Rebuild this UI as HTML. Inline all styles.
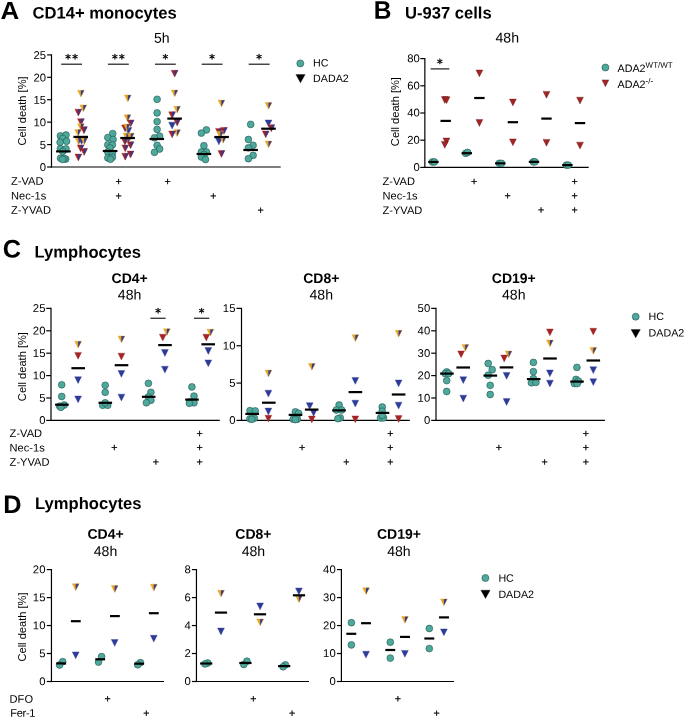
<!DOCTYPE html>
<html lang="en">
<head>
<meta charset="utf-8">
<title>Cell death figure</title>
<style>
html,body{margin:0;padding:0;background:#fff;}
body{width:685px;height:718px;overflow:hidden;}
svg{display:block;font-family:"Liberation Sans",Arial,sans-serif;fill:#000;}
</style>
</head>
<body>
<svg width="685" height="718" viewBox="0 0 685 718">
<rect width="685" height="718" fill="#fff"/>
<text transform="matrix(1.045 .0005 0 1 0.6 18.9)" font-size="24.8" font-weight="bold">A</text>
<text transform="matrix(1 .0005 0 1 32.5 18.5)" font-size="16.6" font-weight="bold">CD14+ monocytes</text>
<text transform="matrix(.97 .0005 0 1 373.8 18.8)" font-size="25.3" font-weight="bold">B</text>
<text transform="matrix(1 .0005 0 1 405 18.5)" font-size="16.6" font-weight="bold">U-937 cells</text>
<text transform="matrix(1 .0005 0 1 2.8 257.6)" font-size="25.3" font-weight="bold">C</text>
<text transform="matrix(1 .0005 0 1 34.6 257.6)" font-size="16.6" font-weight="bold">Lymphocytes</text>
<text transform="matrix(1 .0005 0 1 3.2 512.9)" font-size="25.3" font-weight="bold">D</text>
<text transform="matrix(1 .0005 0 1 35.05 508.9)" font-size="16.6" font-weight="bold">Lymphocytes</text>
<text transform="matrix(1 .0005 0 1 161.85 42.75)" font-size="14.1" text-anchor="middle">5h</text>
<line x1="51.5" y1="54.3" x2="51.5" y2="167.6" stroke="#000" stroke-width="1.2"/>
<line x1="50.9" y1="167" x2="280.7" y2="167" stroke="#000" stroke-width="1.2"/>
<line x1="47.1" y1="167" x2="51.5" y2="167" stroke="#000" stroke-width="1.2"/>
<text transform="matrix(1 .0005 0 1 46 171.1)" font-size="11.3" text-anchor="end">0</text>
<line x1="47.1" y1="144.58" x2="51.5" y2="144.58" stroke="#000" stroke-width="1.2"/>
<text transform="matrix(1 .0005 0 1 46 148.68)" font-size="11.3" text-anchor="end">5</text>
<line x1="47.1" y1="122.16" x2="51.5" y2="122.16" stroke="#000" stroke-width="1.2"/>
<text transform="matrix(1 .0005 0 1 46 126.26)" font-size="11.3" text-anchor="end">10</text>
<line x1="47.1" y1="99.74" x2="51.5" y2="99.74" stroke="#000" stroke-width="1.2"/>
<text transform="matrix(1 .0005 0 1 46 103.84)" font-size="11.3" text-anchor="end">15</text>
<line x1="47.1" y1="77.32" x2="51.5" y2="77.32" stroke="#000" stroke-width="1.2"/>
<text transform="matrix(1 .0005 0 1 46 81.42)" font-size="11.3" text-anchor="end">20</text>
<line x1="47.1" y1="54.9" x2="51.5" y2="54.9" stroke="#000" stroke-width="1.2"/>
<text transform="matrix(1 .0005 0 1 46 59)" font-size="11.3" text-anchor="end">25</text>
<text transform="translate(25.8 110.9) rotate(-90)" font-size="11.1" text-anchor="middle">Cell death [%]</text>
<text transform="matrix(1 .0005 0 1 11.05 184.8)" font-size="11.1">Z-VAD</text>
<text transform="matrix(1 .0005 0 1 11.05 199.6)" font-size="11.1">Nec-1s</text>
<text transform="matrix(1 .0005 0 1 11.05 213.8)" font-size="11.1">Z-YVAD</text>
<text transform="matrix(1 .0005 0 1 118.7 185)" font-size="10.6" text-anchor="middle" stroke="#000" stroke-width="0.25">+</text>
<text transform="matrix(1 .0005 0 1 118.7 199.5)" font-size="10.6" text-anchor="middle" stroke="#000" stroke-width="0.25">+</text>
<text transform="matrix(1 .0005 0 1 167.6 185)" font-size="10.6" text-anchor="middle" stroke="#000" stroke-width="0.25">+</text>
<text transform="matrix(1 .0005 0 1 213.3 199.5)" font-size="10.6" text-anchor="middle" stroke="#000" stroke-width="0.25">+</text>
<text transform="matrix(1 .0005 0 1 260.5 213.7)" font-size="10.6" text-anchor="middle" stroke="#000" stroke-width="0.25">+</text>
<circle cx="300.3" cy="63.4" r="3.5" fill="#4FA89C" stroke="#1F5650" stroke-width="0.6"/>
<path d="M295.9 74.6H305.1L300.5 82.8Z" fill="#000000" stroke="#000000" stroke-width="0.36" stroke-linejoin="round"/>
<text transform="matrix(1 .0005 0 1 313.1 66.5)" font-size="10.7">HC</text>
<text transform="matrix(1 .0005 0 1 313.1 82)" font-size="10.7">DADA2</text>
<line x1="61.2" y1="64.2" x2="82" y2="64.2" stroke="#111" stroke-width="1.15"/>
<text transform="matrix(1 .0005 0 1 72.15 62.5)" font-size="11.4" text-anchor="middle" font-family="DejaVu Sans, Liberation Sans, sans-serif" stroke="#000" stroke-width="0.35" letter-spacing="1.1">**</text>
<line x1="107.9" y1="64.2" x2="128.8" y2="64.2" stroke="#111" stroke-width="1.15"/>
<text transform="matrix(1 .0005 0 1 118.9 62.5)" font-size="11.4" text-anchor="middle" font-family="DejaVu Sans, Liberation Sans, sans-serif" stroke="#000" stroke-width="0.35" letter-spacing="1.1">**</text>
<line x1="155" y1="64.2" x2="175.8" y2="64.2" stroke="#111" stroke-width="1.15"/>
<text transform="matrix(1 .0005 0 1 165.4 62.5)" font-size="11.4" text-anchor="middle" font-family="DejaVu Sans, Liberation Sans, sans-serif" stroke="#000" stroke-width="0.35">*</text>
<line x1="201.7" y1="64.2" x2="222.6" y2="64.2" stroke="#111" stroke-width="1.15"/>
<text transform="matrix(1 .0005 0 1 212.15 62.5)" font-size="11.4" text-anchor="middle" font-family="DejaVu Sans, Liberation Sans, sans-serif" stroke="#000" stroke-width="0.35">*</text>
<line x1="248.7" y1="64.2" x2="269.6" y2="64.2" stroke="#111" stroke-width="1.15"/>
<text transform="matrix(1 .0005 0 1 259.15 62.5)" font-size="11.4" text-anchor="middle" font-family="DejaVu Sans, Liberation Sans, sans-serif" stroke="#000" stroke-width="0.35">*</text>
<circle cx="60.4" cy="135.9" r="3.4" fill="#4FA89C" stroke="#1F5650" stroke-width="0.6"/>
<circle cx="66" cy="135" r="3.4" fill="#4FA89C" stroke="#1F5650" stroke-width="0.6"/>
<circle cx="62.8" cy="138.5" r="3.4" fill="#4FA89C" stroke="#1F5650" stroke-width="0.6"/>
<circle cx="60.1" cy="142.3" r="3.4" fill="#4FA89C" stroke="#1F5650" stroke-width="0.6"/>
<circle cx="66.6" cy="141.3" r="3.4" fill="#4FA89C" stroke="#1F5650" stroke-width="0.6"/>
<circle cx="60.4" cy="148.6" r="3.4" fill="#4FA89C" stroke="#1F5650" stroke-width="0.6"/>
<circle cx="66" cy="148.9" r="3.4" fill="#4FA89C" stroke="#1F5650" stroke-width="0.6"/>
<circle cx="62.8" cy="151.4" r="3.4" fill="#4FA89C" stroke="#1F5650" stroke-width="0.6"/>
<circle cx="60.6" cy="158.2" r="3.4" fill="#4FA89C" stroke="#1F5650" stroke-width="0.6"/>
<circle cx="65.7" cy="159.1" r="3.4" fill="#4FA89C" stroke="#1F5650" stroke-width="0.6"/>
<circle cx="64.2" cy="158.6" r="3.4" fill="#4FA89C" stroke="#1F5650" stroke-width="0.6"/>
<circle cx="62.6" cy="159.4" r="3.4" fill="#4FA89C" stroke="#1F5650" stroke-width="0.6"/>
<path d="M77.48 90.17H84.33L80.9 97.02Z" fill="#EAA423"/>
<path d="M80.9 90.17H84.33L80.9 97.02Z" fill="#2D3B96"/>
<path d="M77.48 90.17H84.33L80.9 97.02Z" fill="none" stroke="#EAA423" stroke-width="0.36" stroke-linejoin="round"/>
<path d="M79.88 104.88H86.72L83.3 111.72Z" fill="#EAA423"/>
<path d="M83.3 104.88H86.72L83.3 111.72Z" fill="#2D3B96"/>
<path d="M79.88 104.88H86.72L83.3 111.72Z" fill="none" stroke="#EAA423" stroke-width="0.36" stroke-linejoin="round"/>
<path d="M74.88 109.17H81.72L78.3 116.02Z" fill="#A32424"/>
<path d="M78.3 109.17H81.72L78.3 116.02Z" fill="#2D3B96"/>
<path d="M74.88 109.17H81.72L78.3 116.02Z" fill="none" stroke="#A32424" stroke-width="0.36" stroke-linejoin="round"/>
<path d="M77.48 118.67H84.33L80.9 125.52Z" fill="#A32424"/>
<path d="M80.9 118.67H84.33L80.9 125.52Z" fill="#2D3B96"/>
<path d="M77.48 118.67H84.33L80.9 125.52Z" fill="none" stroke="#A32424" stroke-width="0.36" stroke-linejoin="round"/>
<path d="M77.48 123.67H84.33L80.9 130.53Z" fill="#EAA423"/>
<path d="M80.9 123.67H84.33L80.9 130.53Z" fill="#2D3B96"/>
<path d="M77.48 123.67H84.33L80.9 130.53Z" fill="none" stroke="#EAA423" stroke-width="0.36" stroke-linejoin="round"/>
<path d="M80.48 126.78H87.33L83.9 133.63Z" fill="#A32424"/>
<path d="M83.9 126.78H87.33L83.9 133.63Z" fill="#2D3B96"/>
<path d="M80.48 126.78H87.33L83.9 133.63Z" fill="none" stroke="#A32424" stroke-width="0.36" stroke-linejoin="round"/>
<path d="M74.58 129.47H81.42L78 136.33Z" fill="#EAA423"/>
<path d="M78 129.47H81.42L78 136.33Z" fill="#2D3B96"/>
<path d="M74.58 129.47H81.42L78 136.33Z" fill="none" stroke="#EAA423" stroke-width="0.36" stroke-linejoin="round"/>
<path d="M75.17 137.78H82.02L78.6 144.63Z" fill="#EAA423"/>
<path d="M78.6 137.78H82.02L78.6 144.63Z" fill="#2D3B96"/>
<path d="M75.17 137.78H82.02L78.6 144.63Z" fill="none" stroke="#EAA423" stroke-width="0.36" stroke-linejoin="round"/>
<path d="M78.17 137.57H85.02L81.6 144.43Z" fill="#2D3B96" stroke="#2D3B96" stroke-width="0.36" stroke-linejoin="round"/>
<path d="M80.78 137.78H87.62L84.2 144.63Z" fill="#EAA423"/>
<path d="M84.2 137.78H87.62L84.2 144.63Z" fill="#2D3B96"/>
<path d="M80.78 137.78H87.62L84.2 144.63Z" fill="none" stroke="#EAA423" stroke-width="0.36" stroke-linejoin="round"/>
<path d="M77.17 144.88H84.02L80.6 151.73Z" fill="#A32424"/>
<path d="M80.6 144.88H84.02L80.6 151.73Z" fill="#2D3B96"/>
<path d="M77.17 144.88H84.02L80.6 151.73Z" fill="none" stroke="#A32424" stroke-width="0.36" stroke-linejoin="round"/>
<path d="M80.67 148.57H87.52L84.1 155.43Z" fill="#A32424"/>
<path d="M84.1 148.57H87.52L84.1 155.43Z" fill="#2D3B96"/>
<path d="M80.67 148.57H87.52L84.1 155.43Z" fill="none" stroke="#A32424" stroke-width="0.36" stroke-linejoin="round"/>
<path d="M74.88 154.07H81.72L78.3 160.93Z" fill="#A32424"/>
<path d="M78.3 154.07H81.72L78.3 160.93Z" fill="#2D3B96"/>
<path d="M74.88 154.07H81.72L78.3 160.93Z" fill="none" stroke="#A32424" stroke-width="0.36" stroke-linejoin="round"/>
<line x1="56.1" y1="151.4" x2="70.7" y2="151.4" stroke="#000" stroke-width="2.2"/>
<line x1="73.4" y1="136.9" x2="88" y2="136.9" stroke="#000" stroke-width="2.2"/>
<circle cx="112.7" cy="133.6" r="3.4" fill="#4FA89C" stroke="#1F5650" stroke-width="0.6"/>
<circle cx="107.8" cy="137.6" r="3.4" fill="#4FA89C" stroke="#1F5650" stroke-width="0.6"/>
<circle cx="113.1" cy="139.5" r="3.4" fill="#4FA89C" stroke="#1F5650" stroke-width="0.6"/>
<circle cx="107.8" cy="144.8" r="3.4" fill="#4FA89C" stroke="#1F5650" stroke-width="0.6"/>
<circle cx="112.4" cy="144.8" r="3.4" fill="#4FA89C" stroke="#1F5650" stroke-width="0.6"/>
<circle cx="110" cy="148" r="3.4" fill="#4FA89C" stroke="#1F5650" stroke-width="0.6"/>
<circle cx="107.8" cy="152" r="3.4" fill="#4FA89C" stroke="#1F5650" stroke-width="0.6"/>
<circle cx="112.4" cy="153.3" r="3.4" fill="#4FA89C" stroke="#1F5650" stroke-width="0.6"/>
<circle cx="107.8" cy="157.9" r="3.4" fill="#4FA89C" stroke="#1F5650" stroke-width="0.6"/>
<circle cx="112.4" cy="157.3" r="3.4" fill="#4FA89C" stroke="#1F5650" stroke-width="0.6"/>
<circle cx="110.5" cy="159.2" r="3.4" fill="#4FA89C" stroke="#1F5650" stroke-width="0.6"/>
<path d="M124.38 94.97H131.22L127.8 101.82Z" fill="#EAA423"/>
<path d="M127.8 94.97H131.22L127.8 101.82Z" fill="#2D3B96"/>
<path d="M124.38 94.97H131.22L127.8 101.82Z" fill="none" stroke="#EAA423" stroke-width="0.36" stroke-linejoin="round"/>
<path d="M124.98 127.48H131.83L128.4 134.33Z" fill="#2D3B96" stroke="#2D3B96" stroke-width="0.36" stroke-linejoin="round"/>
<path d="M124.08 114.78H130.93L127.5 121.62Z" fill="#EAA423"/>
<path d="M127.5 114.78H130.93L127.5 121.62Z" fill="#2D3B96"/>
<path d="M124.08 114.78H130.93L127.5 121.62Z" fill="none" stroke="#EAA423" stroke-width="0.36" stroke-linejoin="round"/>
<path d="M127.27 119.88H134.12L130.7 126.72Z" fill="#A32424"/>
<path d="M130.7 119.88H134.12L130.7 126.72Z" fill="#2D3B96"/>
<path d="M127.27 119.88H134.12L130.7 126.72Z" fill="none" stroke="#A32424" stroke-width="0.36" stroke-linejoin="round"/>
<path d="M121.58 124.88H128.43L125 131.73Z" fill="#A32424"/>
<path d="M125 124.88H128.43L125 131.73Z" fill="#2D3B96"/>
<path d="M121.58 124.88H128.43L125 131.73Z" fill="none" stroke="#A32424" stroke-width="0.36" stroke-linejoin="round"/>
<path d="M123.48 124.08H130.33L126.9 130.93Z" fill="#EAA423"/>
<path d="M126.9 124.08H130.33L126.9 130.93Z" fill="#2D3B96"/>
<path d="M123.48 124.08H130.33L126.9 130.93Z" fill="none" stroke="#EAA423" stroke-width="0.36" stroke-linejoin="round"/>
<path d="M124.77 136.47H131.62L128.2 143.33Z" fill="#EAA423"/>
<path d="M128.2 136.47H131.62L128.2 143.33Z" fill="#2D3B96"/>
<path d="M124.77 136.47H131.62L128.2 143.33Z" fill="none" stroke="#EAA423" stroke-width="0.36" stroke-linejoin="round"/>
<path d="M123.08 133.07H129.93L126.5 139.93Z" fill="#EAA423"/>
<path d="M126.5 133.07H129.93L126.5 139.93Z" fill="#2D3B96"/>
<path d="M123.08 133.07H129.93L126.5 139.93Z" fill="none" stroke="#EAA423" stroke-width="0.36" stroke-linejoin="round"/>
<path d="M127.38 133.18H134.23L130.8 140.03Z" fill="#EAA423"/>
<path d="M130.8 133.18H134.23L130.8 140.03Z" fill="#2D3B96"/>
<path d="M127.38 133.18H134.23L130.8 140.03Z" fill="none" stroke="#EAA423" stroke-width="0.36" stroke-linejoin="round"/>
<path d="M121.48 138.18H128.33L124.9 145.03Z" fill="#A32424"/>
<path d="M124.9 138.18H128.33L124.9 145.03Z" fill="#2D3B96"/>
<path d="M121.48 138.18H128.33L124.9 145.03Z" fill="none" stroke="#A32424" stroke-width="0.36" stroke-linejoin="round"/>
<path d="M127.08 141.78H133.93L130.5 148.63Z" fill="#A32424"/>
<path d="M130.5 141.78H133.93L130.5 148.63Z" fill="#2D3B96"/>
<path d="M127.08 141.78H133.93L130.5 148.63Z" fill="none" stroke="#A32424" stroke-width="0.36" stroke-linejoin="round"/>
<path d="M121.78 144.97H128.62L125.2 151.83Z" fill="#A32424"/>
<path d="M125.2 144.97H128.62L125.2 151.83Z" fill="#2D3B96"/>
<path d="M121.78 144.97H128.62L125.2 151.83Z" fill="none" stroke="#A32424" stroke-width="0.36" stroke-linejoin="round"/>
<path d="M127.08 151.07H133.93L130.5 157.93Z" fill="#A32424"/>
<path d="M130.5 151.07H133.93L130.5 157.93Z" fill="#2D3B96"/>
<path d="M127.08 151.07H133.93L130.5 157.93Z" fill="none" stroke="#A32424" stroke-width="0.36" stroke-linejoin="round"/>
<path d="M121.78 153.28H128.62L125.2 160.13Z" fill="#A32424"/>
<path d="M125.2 153.28H128.62L125.2 160.13Z" fill="#2D3B96"/>
<path d="M121.78 153.28H128.62L125.2 160.13Z" fill="none" stroke="#A32424" stroke-width="0.36" stroke-linejoin="round"/>
<line x1="102.8" y1="151" x2="117.4" y2="151" stroke="#000" stroke-width="2.2"/>
<line x1="120.3" y1="138" x2="134.9" y2="138" stroke="#000" stroke-width="2.2"/>
<circle cx="157.1" cy="99.3" r="3.4" fill="#4FA89C" stroke="#1F5650" stroke-width="0.6"/>
<circle cx="157.1" cy="112.9" r="3.4" fill="#4FA89C" stroke="#1F5650" stroke-width="0.6"/>
<circle cx="157.1" cy="121.6" r="3.4" fill="#4FA89C" stroke="#1F5650" stroke-width="0.6"/>
<circle cx="157.1" cy="129.4" r="3.4" fill="#4FA89C" stroke="#1F5650" stroke-width="0.6"/>
<circle cx="159.6" cy="136.1" r="3.4" fill="#4FA89C" stroke="#1F5650" stroke-width="0.6"/>
<circle cx="154.5" cy="137.8" r="3.4" fill="#4FA89C" stroke="#1F5650" stroke-width="0.6"/>
<circle cx="157.1" cy="145.3" r="3.4" fill="#4FA89C" stroke="#1F5650" stroke-width="0.6"/>
<circle cx="159.6" cy="149" r="3.4" fill="#4FA89C" stroke="#1F5650" stroke-width="0.6"/>
<circle cx="154.5" cy="152.3" r="3.4" fill="#4FA89C" stroke="#1F5650" stroke-width="0.6"/>
<path d="M171.17 70.28H178.03L174.6 77.12Z" fill="#A32424"/>
<path d="M174.6 70.28H178.03L174.6 77.12Z" fill="#2D3B96"/>
<path d="M171.17 70.28H178.03L174.6 77.12Z" fill="none" stroke="#A32424" stroke-width="0.36" stroke-linejoin="round"/>
<path d="M171.17 89.97H178.03L174.6 96.82Z" fill="#EAA423"/>
<path d="M174.6 89.97H178.03L174.6 96.82Z" fill="#2D3B96"/>
<path d="M171.17 89.97H178.03L174.6 96.82Z" fill="none" stroke="#EAA423" stroke-width="0.36" stroke-linejoin="round"/>
<path d="M173.67 106.28H180.53L177.1 113.12Z" fill="#EAA423"/>
<path d="M177.1 106.28H180.53L177.1 113.12Z" fill="#2D3B96"/>
<path d="M173.67 106.28H180.53L177.1 113.12Z" fill="none" stroke="#EAA423" stroke-width="0.36" stroke-linejoin="round"/>
<path d="M168.67 111.78H175.53L172.1 118.62Z" fill="#A32424"/>
<path d="M172.1 111.78H175.53L172.1 118.62Z" fill="#2D3B96"/>
<path d="M168.67 111.78H175.53L172.1 118.62Z" fill="none" stroke="#A32424" stroke-width="0.36" stroke-linejoin="round"/>
<path d="M173.67 119.08H180.53L177.1 125.92Z" fill="#A32424"/>
<path d="M177.1 119.08H180.53L177.1 125.92Z" fill="#2D3B96"/>
<path d="M173.67 119.08H180.53L177.1 125.92Z" fill="none" stroke="#A32424" stroke-width="0.36" stroke-linejoin="round"/>
<path d="M168.67 122.17H175.53L172.1 129.03Z" fill="#2D3B96" stroke="#2D3B96" stroke-width="0.36" stroke-linejoin="round"/>
<path d="M173.67 129.68H180.53L177.1 136.53Z" fill="#EAA423"/>
<path d="M177.1 129.68H180.53L177.1 136.53Z" fill="#2D3B96"/>
<path d="M173.67 129.68H180.53L177.1 136.53Z" fill="none" stroke="#EAA423" stroke-width="0.36" stroke-linejoin="round"/>
<path d="M168.67 130.97H175.53L172.1 137.83Z" fill="#A32424"/>
<path d="M172.1 130.97H175.53L172.1 137.83Z" fill="#2D3B96"/>
<path d="M168.67 130.97H175.53L172.1 137.83Z" fill="none" stroke="#A32424" stroke-width="0.36" stroke-linejoin="round"/>
<line x1="149.5" y1="139" x2="164.1" y2="139" stroke="#000" stroke-width="2.2"/>
<line x1="167.3" y1="118.6" x2="181.9" y2="118.6" stroke="#000" stroke-width="2.2"/>
<circle cx="206.4" cy="129.9" r="3.4" fill="#4FA89C" stroke="#1F5650" stroke-width="0.6"/>
<circle cx="201.4" cy="133.1" r="3.4" fill="#4FA89C" stroke="#1F5650" stroke-width="0.6"/>
<circle cx="203.9" cy="145.7" r="3.4" fill="#4FA89C" stroke="#1F5650" stroke-width="0.6"/>
<circle cx="201.4" cy="152" r="3.4" fill="#4FA89C" stroke="#1F5650" stroke-width="0.6"/>
<circle cx="206.4" cy="152" r="3.4" fill="#4FA89C" stroke="#1F5650" stroke-width="0.6"/>
<circle cx="203.9" cy="154.5" r="3.4" fill="#4FA89C" stroke="#1F5650" stroke-width="0.6"/>
<circle cx="201.4" cy="157" r="3.4" fill="#4FA89C" stroke="#1F5650" stroke-width="0.6"/>
<circle cx="205.5" cy="159.5" r="3.4" fill="#4FA89C" stroke="#1F5650" stroke-width="0.6"/>
<path d="M217.97 100.08H224.83L221.4 106.92Z" fill="#EAA423"/>
<path d="M221.4 100.08H224.83L221.4 106.92Z" fill="#2D3B96"/>
<path d="M217.97 100.08H224.83L221.4 106.92Z" fill="none" stroke="#EAA423" stroke-width="0.36" stroke-linejoin="round"/>
<path d="M215.47 128.47H222.33L218.9 135.33Z" fill="#A32424"/>
<path d="M218.9 128.47H222.33L218.9 135.33Z" fill="#2D3B96"/>
<path d="M215.47 128.47H222.33L218.9 135.33Z" fill="none" stroke="#A32424" stroke-width="0.36" stroke-linejoin="round"/>
<path d="M220.47 127.48H227.33L223.9 134.33Z" fill="#A32424"/>
<path d="M223.9 127.48H227.33L223.9 134.33Z" fill="#2D3B96"/>
<path d="M220.47 127.48H227.33L223.9 134.33Z" fill="none" stroke="#A32424" stroke-width="0.36" stroke-linejoin="round"/>
<path d="M216.88 131.28H223.73L220.3 138.13Z" fill="#EAA423"/>
<path d="M220.3 131.28H223.73L220.3 138.13Z" fill="#2D3B96"/>
<path d="M216.88 131.28H223.73L220.3 138.13Z" fill="none" stroke="#EAA423" stroke-width="0.36" stroke-linejoin="round"/>
<path d="M215.47 137.97H222.33L218.9 144.83Z" fill="#2D3B96" stroke="#2D3B96" stroke-width="0.36" stroke-linejoin="round"/>
<path d="M219.67 136.38H226.53L223.1 143.23Z" fill="#EAA423"/>
<path d="M223.1 136.38H226.53L223.1 143.23Z" fill="#2D3B96"/>
<path d="M219.67 136.38H226.53L223.1 143.23Z" fill="none" stroke="#EAA423" stroke-width="0.36" stroke-linejoin="round"/>
<path d="M217.97 150.57H224.83L221.4 157.43Z" fill="#A32424"/>
<path d="M221.4 150.57H224.83L221.4 157.43Z" fill="#2D3B96"/>
<path d="M217.97 150.57H224.83L221.4 157.43Z" fill="none" stroke="#A32424" stroke-width="0.36" stroke-linejoin="round"/>
<line x1="196.6" y1="154" x2="211.2" y2="154" stroke="#000" stroke-width="2.2"/>
<line x1="214.3" y1="137" x2="228.9" y2="137" stroke="#000" stroke-width="2.2"/>
<circle cx="250.7" cy="124.4" r="3.4" fill="#4FA89C" stroke="#1F5650" stroke-width="0.6"/>
<circle cx="248.4" cy="139.5" r="3.4" fill="#4FA89C" stroke="#1F5650" stroke-width="0.6"/>
<circle cx="253.1" cy="145.3" r="3.4" fill="#4FA89C" stroke="#1F5650" stroke-width="0.6"/>
<circle cx="248.4" cy="147.8" r="3.4" fill="#4FA89C" stroke="#1F5650" stroke-width="0.6"/>
<circle cx="253.1" cy="155.4" r="3.4" fill="#4FA89C" stroke="#1F5650" stroke-width="0.6"/>
<circle cx="248.4" cy="158.7" r="3.4" fill="#4FA89C" stroke="#1F5650" stroke-width="0.6"/>
<path d="M265.07 102.38H271.93L268.5 109.22Z" fill="#EAA423"/>
<path d="M268.5 102.38H271.93L268.5 109.22Z" fill="#2D3B96"/>
<path d="M265.07 102.38H271.93L268.5 109.22Z" fill="none" stroke="#EAA423" stroke-width="0.36" stroke-linejoin="round"/>
<path d="M265.07 119.97H271.93L268.5 126.82Z" fill="#2D3B96" stroke="#2D3B96" stroke-width="0.36" stroke-linejoin="round"/>
<path d="M267.88 124.78H274.73L271.3 131.63Z" fill="#A32424"/>
<path d="M271.3 124.78H274.73L271.3 131.63Z" fill="#2D3B96"/>
<path d="M267.88 124.78H274.73L271.3 131.63Z" fill="none" stroke="#A32424" stroke-width="0.36" stroke-linejoin="round"/>
<path d="M262.27 130.88H269.12L265.7 137.73Z" fill="#A32424"/>
<path d="M265.7 130.88H269.12L265.7 137.73Z" fill="#2D3B96"/>
<path d="M262.27 130.88H269.12L265.7 137.73Z" fill="none" stroke="#A32424" stroke-width="0.36" stroke-linejoin="round"/>
<path d="M265.07 140.97H271.93L268.5 147.83Z" fill="#EAA423"/>
<path d="M268.5 140.97H271.93L268.5 147.83Z" fill="#2D3B96"/>
<path d="M265.07 140.97H271.93L268.5 147.83Z" fill="none" stroke="#EAA423" stroke-width="0.36" stroke-linejoin="round"/>
<line x1="243.3" y1="150" x2="257.9" y2="150" stroke="#000" stroke-width="2.2"/>
<line x1="261.2" y1="128.7" x2="275.8" y2="128.7" stroke="#000" stroke-width="2.2"/>
<text transform="matrix(1 .0005 0 1 507.2 42.5)" font-size="14.1" text-anchor="middle">48h</text>
<line x1="424.85" y1="58" x2="424.85" y2="168" stroke="#000" stroke-width="1.2"/>
<line x1="424.25" y1="167.4" x2="588.7" y2="167.4" stroke="#000" stroke-width="1.2"/>
<line x1="420.3" y1="167.4" x2="424.85" y2="167.4" stroke="#000" stroke-width="1.2"/>
<text transform="matrix(1 .0005 0 1 419.75 171)" font-size="11.3" text-anchor="end">0</text>
<line x1="420.3" y1="140.2" x2="424.85" y2="140.2" stroke="#000" stroke-width="1.2"/>
<text transform="matrix(1 .0005 0 1 419.75 143.8)" font-size="11.3" text-anchor="end">20</text>
<line x1="420.3" y1="113" x2="424.85" y2="113" stroke="#000" stroke-width="1.2"/>
<text transform="matrix(1 .0005 0 1 419.75 116.6)" font-size="11.3" text-anchor="end">40</text>
<line x1="420.3" y1="85.8" x2="424.85" y2="85.8" stroke="#000" stroke-width="1.2"/>
<text transform="matrix(1 .0005 0 1 419.75 89.4)" font-size="11.3" text-anchor="end">60</text>
<line x1="420.3" y1="58.6" x2="424.85" y2="58.6" stroke="#000" stroke-width="1.2"/>
<text transform="matrix(1 .0005 0 1 419.75 62.2)" font-size="11.3" text-anchor="end">80</text>
<text transform="translate(399 111.6) rotate(-90)" font-size="11.1" text-anchor="middle">Cell death [%]</text>
<text transform="matrix(1 .0005 0 1 382.5 185)" font-size="11.1">Z-VAD</text>
<text transform="matrix(1 .0005 0 1 382.5 199.4)" font-size="11.1">Nec-1s</text>
<text transform="matrix(1 .0005 0 1 382.5 214)" font-size="11.1">Z-YVAD</text>
<text transform="matrix(1 .0005 0 1 474 185)" font-size="10.6" text-anchor="middle" stroke="#000" stroke-width="0.25">+</text>
<text transform="matrix(1 .0005 0 1 507.5 199.3)" font-size="10.6" text-anchor="middle" stroke="#000" stroke-width="0.25">+</text>
<text transform="matrix(1 .0005 0 1 541 213.5)" font-size="10.6" text-anchor="middle" stroke="#000" stroke-width="0.25">+</text>
<text transform="matrix(1 .0005 0 1 574.6 185)" font-size="10.6" text-anchor="middle" stroke="#000" stroke-width="0.25">+</text>
<text transform="matrix(1 .0005 0 1 574.6 199.3)" font-size="10.6" text-anchor="middle" stroke="#000" stroke-width="0.25">+</text>
<text transform="matrix(1 .0005 0 1 574.6 213.5)" font-size="10.6" text-anchor="middle" stroke="#000" stroke-width="0.25">+</text>
<circle cx="605.4" cy="67.5" r="3.5" fill="#4FA89C" stroke="#1F5650" stroke-width="0.6"/>
<path d="M601.98 79.88H608.82L605.4 86.72Z" fill="#A32424" stroke="#5A1212" stroke-width="0.36" stroke-linejoin="round"/>
<text transform="matrix(1 .0005 0 1 617.5 71.9)" font-size="10.75">ADA2<tspan dy="-4.2" font-size="8">WT/WT</tspan></text>
<text transform="matrix(1 .0005 0 1 617.5 88)" font-size="10.75">ADA2<tspan dy="-4.2" font-size="8">-/-</tspan></text>
<line x1="430.6" y1="68.9" x2="449.3" y2="68.9" stroke="#111" stroke-width="1.15"/>
<text transform="matrix(1 .0005 0 1 439.95 67.2)" font-size="11.4" text-anchor="middle" font-family="DejaVu Sans, Liberation Sans, sans-serif" stroke="#000" stroke-width="0.35">*</text>
<circle cx="432.4" cy="161.95" r="3.4" fill="#4FA89C" stroke="#1F5650" stroke-width="0.6"/>
<circle cx="434.4" cy="161.95" r="3.4" fill="#4FA89C" stroke="#1F5650" stroke-width="0.6"/>
<path d="M441.38 96.58H448.23L444.8 103.42Z" fill="#A32424" stroke="#5A1212" stroke-width="0.36" stroke-linejoin="round"/>
<path d="M443.18 96.78H450.03L446.6 103.62Z" fill="#A32424" stroke="#5A1212" stroke-width="0.36" stroke-linejoin="round"/>
<path d="M442.97 137.97H449.82L446.4 144.83Z" fill="#A32424" stroke="#5A1212" stroke-width="0.36" stroke-linejoin="round"/>
<path d="M441.38 141.38H448.23L444.8 148.23Z" fill="#A32424" stroke="#5A1212" stroke-width="0.36" stroke-linejoin="round"/>
<line x1="428.2" y1="161.95" x2="438.6" y2="161.95" stroke="#000" stroke-width="2.2"/>
<line x1="440.5" y1="120.9" x2="450.9" y2="120.9" stroke="#000" stroke-width="2.2"/>
<circle cx="465.7" cy="153.3" r="3.4" fill="#4FA89C" stroke="#1F5650" stroke-width="0.6"/>
<circle cx="467.6" cy="152.4" r="3.4" fill="#4FA89C" stroke="#1F5650" stroke-width="0.6"/>
<path d="M475.97 69.97H482.82L479.4 76.82Z" fill="#A32424" stroke="#5A1212" stroke-width="0.36" stroke-linejoin="round"/>
<path d="M475.97 119.58H482.82L479.4 126.42Z" fill="#A32424" stroke="#5A1212" stroke-width="0.36" stroke-linejoin="round"/>
<line x1="461.6" y1="153.2" x2="472" y2="153.2" stroke="#000" stroke-width="2.2"/>
<line x1="474.2" y1="98" x2="484.6" y2="98" stroke="#000" stroke-width="2.2"/>
<circle cx="499.3" cy="163.35" r="3.4" fill="#4FA89C" stroke="#1F5650" stroke-width="0.6"/>
<circle cx="501.5" cy="163.35" r="3.4" fill="#4FA89C" stroke="#1F5650" stroke-width="0.6"/>
<path d="M509.47 99.08H516.32L512.9 105.92Z" fill="#A32424" stroke="#5A1212" stroke-width="0.36" stroke-linejoin="round"/>
<path d="M509.47 138.88H516.32L512.9 145.73Z" fill="#A32424" stroke="#5A1212" stroke-width="0.36" stroke-linejoin="round"/>
<line x1="495.1" y1="163.35" x2="505.5" y2="163.35" stroke="#000" stroke-width="2.2"/>
<line x1="507.7" y1="122.2" x2="518.1" y2="122.2" stroke="#000" stroke-width="2.2"/>
<circle cx="533.3" cy="161.85" r="3.4" fill="#4FA89C" stroke="#1F5650" stroke-width="0.6"/>
<circle cx="534.9" cy="161.85" r="3.4" fill="#4FA89C" stroke="#1F5650" stroke-width="0.6"/>
<path d="M543.08 91.38H549.92L546.5 98.22Z" fill="#A32424" stroke="#5A1212" stroke-width="0.36" stroke-linejoin="round"/>
<path d="M543.08 139.38H549.92L546.5 146.23Z" fill="#A32424" stroke="#5A1212" stroke-width="0.36" stroke-linejoin="round"/>
<line x1="528.8" y1="161.85" x2="539.2" y2="161.85" stroke="#000" stroke-width="2.2"/>
<line x1="541.3" y1="118.6" x2="551.7" y2="118.6" stroke="#000" stroke-width="2.2"/>
<circle cx="566.4" cy="165.1" r="3.4" fill="#4FA89C" stroke="#1F5650" stroke-width="0.6"/>
<circle cx="568.3" cy="165.1" r="3.4" fill="#4FA89C" stroke="#1F5650" stroke-width="0.6"/>
<path d="M576.58 97.17H583.42L580 104.02Z" fill="#A32424" stroke="#5A1212" stroke-width="0.36" stroke-linejoin="round"/>
<path d="M576.58 142.18H583.42L580 149.03Z" fill="#A32424" stroke="#5A1212" stroke-width="0.36" stroke-linejoin="round"/>
<line x1="562.2" y1="165.1" x2="572.6" y2="165.1" stroke="#000" stroke-width="2.2"/>
<line x1="574.8" y1="123.1" x2="585.2" y2="123.1" stroke="#000" stroke-width="2.2"/>
<text transform="matrix(1 .0005 0 1 129.7 283.1)" font-size="14" font-weight="bold" text-anchor="middle">CD4+</text>
<text transform="matrix(1 .0005 0 1 129.6 299.6)" font-size="14.1" text-anchor="middle">48h</text>
<text transform="matrix(1 .0005 0 1 321.3 283.1)" font-size="14" font-weight="bold" text-anchor="middle">CD8+</text>
<text transform="matrix(1 .0005 0 1 321.2 299.6)" font-size="14.1" text-anchor="middle">48h</text>
<text transform="matrix(1 .0005 0 1 513.8 283.1)" font-size="14" font-weight="bold" text-anchor="middle">CD19+</text>
<text transform="matrix(1 .0005 0 1 513.7 299.6)" font-size="14.1" text-anchor="middle">48h</text>
<line x1="51" y1="307.8" x2="51" y2="421" stroke="#000" stroke-width="1.2"/>
<line x1="50.4" y1="420.4" x2="219.8" y2="420.4" stroke="#000" stroke-width="1.2"/>
<line x1="46.2" y1="420.4" x2="51" y2="420.4" stroke="#000" stroke-width="1.2"/>
<text transform="matrix(1 .0005 0 1 45.44 424.1)" font-size="11.3" text-anchor="end">0</text>
<line x1="46.2" y1="398" x2="51" y2="398" stroke="#000" stroke-width="1.2"/>
<text transform="matrix(1 .0005 0 1 45.44 401.7)" font-size="11.3" text-anchor="end">5</text>
<line x1="46.2" y1="375.6" x2="51" y2="375.6" stroke="#000" stroke-width="1.2"/>
<text transform="matrix(1 .0005 0 1 45.44 379.3)" font-size="11.3" text-anchor="end">10</text>
<line x1="46.2" y1="353.2" x2="51" y2="353.2" stroke="#000" stroke-width="1.2"/>
<text transform="matrix(1 .0005 0 1 45.44 356.9)" font-size="11.3" text-anchor="end">15</text>
<line x1="46.2" y1="330.8" x2="51" y2="330.8" stroke="#000" stroke-width="1.2"/>
<text transform="matrix(1 .0005 0 1 45.44 334.5)" font-size="11.3" text-anchor="end">20</text>
<line x1="46.2" y1="308.4" x2="51" y2="308.4" stroke="#000" stroke-width="1.2"/>
<text transform="matrix(1 .0005 0 1 45.44 312.1)" font-size="11.3" text-anchor="end">25</text>
<line x1="241.5" y1="307.8" x2="241.5" y2="421" stroke="#000" stroke-width="1.2"/>
<line x1="240.9" y1="420.4" x2="409.8" y2="420.4" stroke="#000" stroke-width="1.2"/>
<line x1="236.5" y1="420.4" x2="241.5" y2="420.4" stroke="#000" stroke-width="1.2"/>
<text transform="matrix(1 .0005 0 1 235.45 424.1)" font-size="11.3" text-anchor="end">0</text>
<line x1="236.5" y1="383.07" x2="241.5" y2="383.07" stroke="#000" stroke-width="1.2"/>
<text transform="matrix(1 .0005 0 1 235.45 386.77)" font-size="11.3" text-anchor="end">5</text>
<line x1="236.5" y1="345.73" x2="241.5" y2="345.73" stroke="#000" stroke-width="1.2"/>
<text transform="matrix(1 .0005 0 1 235.45 349.43)" font-size="11.3" text-anchor="end">10</text>
<line x1="236.5" y1="308.4" x2="241.5" y2="308.4" stroke="#000" stroke-width="1.2"/>
<text transform="matrix(1 .0005 0 1 235.45 312.1)" font-size="11.3" text-anchor="end">15</text>
<line x1="436" y1="307.8" x2="436" y2="421" stroke="#000" stroke-width="1.2"/>
<line x1="435.4" y1="420.4" x2="604.9" y2="420.4" stroke="#000" stroke-width="1.2"/>
<line x1="431.2" y1="420.4" x2="436" y2="420.4" stroke="#000" stroke-width="1.2"/>
<text transform="matrix(1 .0005 0 1 430.2 424.1)" font-size="11.3" text-anchor="end">0</text>
<line x1="431.2" y1="398" x2="436" y2="398" stroke="#000" stroke-width="1.2"/>
<text transform="matrix(1 .0005 0 1 430.2 401.7)" font-size="11.3" text-anchor="end">10</text>
<line x1="431.2" y1="375.6" x2="436" y2="375.6" stroke="#000" stroke-width="1.2"/>
<text transform="matrix(1 .0005 0 1 430.2 379.3)" font-size="11.3" text-anchor="end">20</text>
<line x1="431.2" y1="353.2" x2="436" y2="353.2" stroke="#000" stroke-width="1.2"/>
<text transform="matrix(1 .0005 0 1 430.2 356.9)" font-size="11.3" text-anchor="end">30</text>
<line x1="431.2" y1="330.8" x2="436" y2="330.8" stroke="#000" stroke-width="1.2"/>
<text transform="matrix(1 .0005 0 1 430.2 334.5)" font-size="11.3" text-anchor="end">40</text>
<line x1="431.2" y1="308.4" x2="436" y2="308.4" stroke="#000" stroke-width="1.2"/>
<text transform="matrix(1 .0005 0 1 430.2 312.1)" font-size="11.3" text-anchor="end">50</text>
<text transform="translate(25.8 366.6) rotate(-90)" font-size="11.1" text-anchor="middle">Cell death [%]</text>
<text transform="matrix(1 .0005 0 1 9.6 436.9)" font-size="11.1">Z-VAD</text>
<text transform="matrix(1 .0005 0 1 9.6 451.5)" font-size="11.1">Nec-1s</text>
<text transform="matrix(1 .0005 0 1 9.6 465.8)" font-size="11.1">Z-YVAD</text>
<text transform="matrix(1 .0005 0 1 114.3 451.1)" font-size="10.6" text-anchor="middle" stroke="#000" stroke-width="0.25">+</text>
<text transform="matrix(1 .0005 0 1 155.8 465.4)" font-size="10.6" text-anchor="middle" stroke="#000" stroke-width="0.25">+</text>
<text transform="matrix(1 .0005 0 1 199.7 436.9)" font-size="10.6" text-anchor="middle" stroke="#000" stroke-width="0.25">+</text>
<text transform="matrix(1 .0005 0 1 199.7 451.1)" font-size="10.6" text-anchor="middle" stroke="#000" stroke-width="0.25">+</text>
<text transform="matrix(1 .0005 0 1 199.7 465.4)" font-size="10.6" text-anchor="middle" stroke="#000" stroke-width="0.25">+</text>
<text transform="matrix(1 .0005 0 1 302.2 451.1)" font-size="10.6" text-anchor="middle" stroke="#000" stroke-width="0.25">+</text>
<text transform="matrix(1 .0005 0 1 346.4 465.4)" font-size="10.6" text-anchor="middle" stroke="#000" stroke-width="0.25">+</text>
<text transform="matrix(1 .0005 0 1 390.4 436.9)" font-size="10.6" text-anchor="middle" stroke="#000" stroke-width="0.25">+</text>
<text transform="matrix(1 .0005 0 1 390.4 451.1)" font-size="10.6" text-anchor="middle" stroke="#000" stroke-width="0.25">+</text>
<text transform="matrix(1 .0005 0 1 390.4 465.4)" font-size="10.6" text-anchor="middle" stroke="#000" stroke-width="0.25">+</text>
<text transform="matrix(1 .0005 0 1 498.8 451.1)" font-size="10.6" text-anchor="middle" stroke="#000" stroke-width="0.25">+</text>
<text transform="matrix(1 .0005 0 1 544.6 465.4)" font-size="10.6" text-anchor="middle" stroke="#000" stroke-width="0.25">+</text>
<text transform="matrix(1 .0005 0 1 585.8 436.9)" font-size="10.6" text-anchor="middle" stroke="#000" stroke-width="0.25">+</text>
<text transform="matrix(1 .0005 0 1 585.8 451.1)" font-size="10.6" text-anchor="middle" stroke="#000" stroke-width="0.25">+</text>
<text transform="matrix(1 .0005 0 1 585.8 465.4)" font-size="10.6" text-anchor="middle" stroke="#000" stroke-width="0.25">+</text>
<circle cx="635.7" cy="316.7" r="3.5" fill="#4FA89C" stroke="#1F5650" stroke-width="0.6"/>
<path d="M631.1 329.6H640.3L635.7 337.8Z" fill="#000000" stroke="#000000" stroke-width="0.36" stroke-linejoin="round"/>
<text transform="matrix(1 .0005 0 1 648.6 319.9)" font-size="10.7">HC</text>
<text transform="matrix(1 .0005 0 1 648.6 336.6)" font-size="10.7">DADA2</text>
<line x1="150.4" y1="318.25" x2="165.6" y2="318.25" stroke="#111" stroke-width="1.15"/>
<text transform="matrix(1 .0005 0 1 158 316.55)" font-size="11.4" text-anchor="middle" font-family="DejaVu Sans, Liberation Sans, sans-serif" stroke="#000" stroke-width="0.35">*</text>
<line x1="194" y1="318.25" x2="209.3" y2="318.25" stroke="#111" stroke-width="1.15"/>
<text transform="matrix(1 .0005 0 1 201.65 316.55)" font-size="11.4" text-anchor="middle" font-family="DejaVu Sans, Liberation Sans, sans-serif" stroke="#000" stroke-width="0.35">*</text>
<circle cx="61.7" cy="384.8" r="3.4" fill="#4FA89C" stroke="#1F5650" stroke-width="0.6"/>
<circle cx="61.7" cy="396.5" r="3.4" fill="#4FA89C" stroke="#1F5650" stroke-width="0.6"/>
<circle cx="59.7" cy="406.2" r="3.4" fill="#4FA89C" stroke="#1F5650" stroke-width="0.6"/>
<circle cx="64.2" cy="405" r="3.4" fill="#4FA89C" stroke="#1F5650" stroke-width="0.6"/>
<circle cx="60.9" cy="407.3" r="3.4" fill="#4FA89C" stroke="#1F5650" stroke-width="0.6"/>
<path d="M74.67 341.18H81.52L78.1 348.03Z" fill="#EAA423"/>
<path d="M78.1 341.18H81.52L78.1 348.03Z" fill="#2D3B96"/>
<path d="M74.67 341.18H81.52L78.1 348.03Z" fill="none" stroke="#EAA423" stroke-width="0.36" stroke-linejoin="round"/>
<path d="M74.67 352.38H81.52L78.1 359.23Z" fill="#A32424" stroke="#A32424" stroke-width="0.36" stroke-linejoin="round"/>
<path d="M74.67 376.77H81.52L78.1 383.62Z" fill="#2D3B96" stroke="#2D3B96" stroke-width="0.36" stroke-linejoin="round"/>
<path d="M74.67 395.98H81.52L78.1 402.83Z" fill="#2D3B96" stroke="#2D3B96" stroke-width="0.36" stroke-linejoin="round"/>
<line x1="55.1" y1="404.7" x2="68.7" y2="404.7" stroke="#000" stroke-width="2.2"/>
<line x1="71.4" y1="368.2" x2="85" y2="368.2" stroke="#000" stroke-width="2.2"/>
<circle cx="105.2" cy="385.3" r="3.4" fill="#4FA89C" stroke="#1F5650" stroke-width="0.6"/>
<circle cx="105.2" cy="392.3" r="3.4" fill="#4FA89C" stroke="#1F5650" stroke-width="0.6"/>
<circle cx="102.7" cy="405.3" r="3.4" fill="#4FA89C" stroke="#1F5650" stroke-width="0.6"/>
<circle cx="107.7" cy="405.3" r="3.4" fill="#4FA89C" stroke="#1F5650" stroke-width="0.6"/>
<circle cx="105.2" cy="402.8" r="3.4" fill="#4FA89C" stroke="#1F5650" stroke-width="0.6"/>
<path d="M117.98 335.98H124.83L121.4 342.83Z" fill="#EAA423"/>
<path d="M121.4 335.98H124.83L121.4 342.83Z" fill="#2D3B96"/>
<path d="M117.98 335.98H124.83L121.4 342.83Z" fill="none" stroke="#EAA423" stroke-width="0.36" stroke-linejoin="round"/>
<path d="M117.98 353.18H124.83L121.4 360.03Z" fill="#A32424" stroke="#A32424" stroke-width="0.36" stroke-linejoin="round"/>
<path d="M117.98 370.48H124.83L121.4 377.33Z" fill="#2D3B96" stroke="#2D3B96" stroke-width="0.36" stroke-linejoin="round"/>
<path d="M117.98 394.18H124.83L121.4 401.03Z" fill="#2D3B96" stroke="#2D3B96" stroke-width="0.36" stroke-linejoin="round"/>
<line x1="98.5" y1="402.8" x2="112.1" y2="402.8" stroke="#000" stroke-width="2.2"/>
<line x1="114.7" y1="365.2" x2="128.3" y2="365.2" stroke="#000" stroke-width="2.2"/>
<circle cx="148.4" cy="383.3" r="3.4" fill="#4FA89C" stroke="#1F5650" stroke-width="0.6"/>
<circle cx="150.9" cy="392.3" r="3.4" fill="#4FA89C" stroke="#1F5650" stroke-width="0.6"/>
<circle cx="148.4" cy="397" r="3.4" fill="#4FA89C" stroke="#1F5650" stroke-width="0.6"/>
<circle cx="150.9" cy="400.3" r="3.4" fill="#4FA89C" stroke="#1F5650" stroke-width="0.6"/>
<circle cx="146.4" cy="402.8" r="3.4" fill="#4FA89C" stroke="#1F5650" stroke-width="0.6"/>
<path d="M163.38 328.68H170.23L166.8 335.53Z" fill="#EAA423"/>
<path d="M166.8 328.68H170.23L166.8 335.53Z" fill="#2D3B96"/>
<path d="M163.38 328.68H170.23L166.8 335.53Z" fill="none" stroke="#EAA423" stroke-width="0.36" stroke-linejoin="round"/>
<path d="M159.38 334.18H166.23L162.8 341.03Z" fill="#A32424" stroke="#A32424" stroke-width="0.36" stroke-linejoin="round"/>
<path d="M161.47 349.57H168.33L164.9 356.43Z" fill="#2D3B96" stroke="#2D3B96" stroke-width="0.36" stroke-linejoin="round"/>
<path d="M161.47 366.27H168.33L164.9 373.12Z" fill="#2D3B96" stroke="#2D3B96" stroke-width="0.36" stroke-linejoin="round"/>
<line x1="141.9" y1="396.8" x2="155.5" y2="396.8" stroke="#000" stroke-width="2.2"/>
<line x1="158.2" y1="345.1" x2="171.8" y2="345.1" stroke="#000" stroke-width="2.2"/>
<circle cx="191.9" cy="386.9" r="3.4" fill="#4FA89C" stroke="#1F5650" stroke-width="0.6"/>
<circle cx="194" cy="396.1" r="3.4" fill="#4FA89C" stroke="#1F5650" stroke-width="0.6"/>
<circle cx="189.9" cy="402" r="3.4" fill="#4FA89C" stroke="#1F5650" stroke-width="0.6"/>
<circle cx="194" cy="402.8" r="3.4" fill="#4FA89C" stroke="#1F5650" stroke-width="0.6"/>
<circle cx="189.4" cy="403.3" r="3.4" fill="#4FA89C" stroke="#1F5650" stroke-width="0.6"/>
<path d="M206.88 329.18H213.73L210.3 336.03Z" fill="#EAA423"/>
<path d="M210.3 329.18H213.73L210.3 336.03Z" fill="#2D3B96"/>
<path d="M206.88 329.18H213.73L210.3 336.03Z" fill="none" stroke="#EAA423" stroke-width="0.36" stroke-linejoin="round"/>
<path d="M202.88 334.18H209.73L206.3 341.03Z" fill="#A32424" stroke="#A32424" stroke-width="0.36" stroke-linejoin="round"/>
<path d="M204.88 347.57H211.73L208.3 354.43Z" fill="#2D3B96" stroke="#2D3B96" stroke-width="0.36" stroke-linejoin="round"/>
<path d="M204.88 359.88H211.73L208.3 366.73Z" fill="#2D3B96" stroke="#2D3B96" stroke-width="0.36" stroke-linejoin="round"/>
<line x1="185.2" y1="399.6" x2="198.8" y2="399.6" stroke="#000" stroke-width="2.2"/>
<line x1="201.4" y1="344.3" x2="215" y2="344.3" stroke="#000" stroke-width="2.2"/>
<circle cx="250" cy="410.6" r="3.4" fill="#4FA89C" stroke="#1F5650" stroke-width="0.6"/>
<circle cx="255.2" cy="410.9" r="3.4" fill="#4FA89C" stroke="#1F5650" stroke-width="0.6"/>
<circle cx="249.9" cy="418.8" r="3.4" fill="#4FA89C" stroke="#1F5650" stroke-width="0.6"/>
<circle cx="254.3" cy="418.2" r="3.4" fill="#4FA89C" stroke="#1F5650" stroke-width="0.6"/>
<circle cx="251.8" cy="419.3" r="3.4" fill="#4FA89C" stroke="#1F5650" stroke-width="0.6"/>
<path d="M264.97 370.07H271.82L268.4 376.93Z" fill="#EAA423"/>
<path d="M268.4 370.07H271.82L268.4 376.93Z" fill="#2D3B96"/>
<path d="M264.97 370.07H271.82L268.4 376.93Z" fill="none" stroke="#EAA423" stroke-width="0.36" stroke-linejoin="round"/>
<path d="M264.97 390.18H271.82L268.4 397.03Z" fill="#2D3B96" stroke="#2D3B96" stroke-width="0.36" stroke-linejoin="round"/>
<path d="M264.97 408.07H271.82L268.4 414.93Z" fill="#2D3B96" stroke="#2D3B96" stroke-width="0.36" stroke-linejoin="round"/>
<path d="M264.97 415.27H271.82L268.4 422.12Z" fill="#A32424" stroke="#A32424" stroke-width="0.36" stroke-linejoin="round"/>
<line x1="245.4" y1="413.9" x2="259" y2="413.9" stroke="#000" stroke-width="2.2"/>
<line x1="262" y1="402.7" x2="275.6" y2="402.7" stroke="#000" stroke-width="2.2"/>
<circle cx="295.4" cy="411.8" r="3.4" fill="#4FA89C" stroke="#1F5650" stroke-width="0.6"/>
<circle cx="298.6" cy="413.3" r="3.4" fill="#4FA89C" stroke="#1F5650" stroke-width="0.6"/>
<circle cx="293.2" cy="419.2" r="3.4" fill="#4FA89C" stroke="#1F5650" stroke-width="0.6"/>
<circle cx="297.3" cy="419.2" r="3.4" fill="#4FA89C" stroke="#1F5650" stroke-width="0.6"/>
<circle cx="295.3" cy="419.6" r="3.4" fill="#4FA89C" stroke="#1F5650" stroke-width="0.6"/>
<path d="M308.38 363.38H315.23L311.8 370.23Z" fill="#EAA423"/>
<path d="M311.8 363.38H315.23L311.8 370.23Z" fill="#2D3B96"/>
<path d="M308.38 363.38H315.23L311.8 370.23Z" fill="none" stroke="#EAA423" stroke-width="0.36" stroke-linejoin="round"/>
<path d="M306.27 402.68H313.12L309.7 409.53Z" fill="#2D3B96" stroke="#2D3B96" stroke-width="0.36" stroke-linejoin="round"/>
<path d="M310.18 409.38H317.03L313.6 416.23Z" fill="#2D3B96" stroke="#2D3B96" stroke-width="0.36" stroke-linejoin="round"/>
<path d="M308.38 416.07H315.23L311.8 422.93Z" fill="#A32424" stroke="#A32424" stroke-width="0.36" stroke-linejoin="round"/>
<line x1="288.7" y1="414.9" x2="302.3" y2="414.9" stroke="#000" stroke-width="2.2"/>
<line x1="304.9" y1="409.6" x2="318.5" y2="409.6" stroke="#000" stroke-width="2.2"/>
<circle cx="339.1" cy="405" r="3.4" fill="#4FA89C" stroke="#1F5650" stroke-width="0.6"/>
<circle cx="336.4" cy="410" r="3.4" fill="#4FA89C" stroke="#1F5650" stroke-width="0.6"/>
<circle cx="341.6" cy="410" r="3.4" fill="#4FA89C" stroke="#1F5650" stroke-width="0.6"/>
<circle cx="340.3" cy="417.9" r="3.4" fill="#4FA89C" stroke="#1F5650" stroke-width="0.6"/>
<circle cx="337.9" cy="418.7" r="3.4" fill="#4FA89C" stroke="#1F5650" stroke-width="0.6"/>
<path d="M351.88 334.77H358.73L355.3 341.62Z" fill="#EAA423"/>
<path d="M355.3 334.77H358.73L355.3 341.62Z" fill="#2D3B96"/>
<path d="M351.88 334.77H358.73L355.3 341.62Z" fill="none" stroke="#EAA423" stroke-width="0.36" stroke-linejoin="round"/>
<path d="M351.88 377.48H358.73L355.3 384.33Z" fill="#2D3B96" stroke="#2D3B96" stroke-width="0.36" stroke-linejoin="round"/>
<path d="M351.88 400.18H358.73L355.3 407.03Z" fill="#2D3B96" stroke="#2D3B96" stroke-width="0.36" stroke-linejoin="round"/>
<path d="M351.88 415.88H358.73L355.3 422.73Z" fill="#A32424" stroke="#A32424" stroke-width="0.36" stroke-linejoin="round"/>
<line x1="332.2" y1="410.4" x2="345.8" y2="410.4" stroke="#000" stroke-width="2.2"/>
<line x1="348.6" y1="392.1" x2="362.2" y2="392.1" stroke="#000" stroke-width="2.2"/>
<circle cx="382.2" cy="407" r="3.4" fill="#4FA89C" stroke="#1F5650" stroke-width="0.6"/>
<circle cx="382.2" cy="411.2" r="3.4" fill="#4FA89C" stroke="#1F5650" stroke-width="0.6"/>
<circle cx="380.5" cy="417.9" r="3.4" fill="#4FA89C" stroke="#1F5650" stroke-width="0.6"/>
<circle cx="383.5" cy="417.9" r="3.4" fill="#4FA89C" stroke="#1F5650" stroke-width="0.6"/>
<circle cx="382.2" cy="415.4" r="3.4" fill="#4FA89C" stroke="#1F5650" stroke-width="0.6"/>
<path d="M395.18 330.27H402.03L398.6 337.12Z" fill="#EAA423"/>
<path d="M398.6 330.27H402.03L398.6 337.12Z" fill="#2D3B96"/>
<path d="M395.18 330.27H402.03L398.6 337.12Z" fill="none" stroke="#EAA423" stroke-width="0.36" stroke-linejoin="round"/>
<path d="M395.18 379.98H402.03L398.6 386.83Z" fill="#2D3B96" stroke="#2D3B96" stroke-width="0.36" stroke-linejoin="round"/>
<path d="M395.18 402.18H402.03L398.6 409.03Z" fill="#2D3B96" stroke="#2D3B96" stroke-width="0.36" stroke-linejoin="round"/>
<path d="M395.18 415.57H402.03L398.6 422.43Z" fill="#A32424" stroke="#A32424" stroke-width="0.36" stroke-linejoin="round"/>
<line x1="375.7" y1="412.9" x2="389.3" y2="412.9" stroke="#000" stroke-width="2.2"/>
<line x1="391.8" y1="394.5" x2="405.4" y2="394.5" stroke="#000" stroke-width="2.2"/>
<circle cx="446.7" cy="371.9" r="3.4" fill="#4FA89C" stroke="#1F5650" stroke-width="0.6"/>
<circle cx="445.1" cy="373.6" r="3.4" fill="#4FA89C" stroke="#1F5650" stroke-width="0.6"/>
<circle cx="448.7" cy="373.6" r="3.4" fill="#4FA89C" stroke="#1F5650" stroke-width="0.6"/>
<circle cx="446.7" cy="380.6" r="3.4" fill="#4FA89C" stroke="#1F5650" stroke-width="0.6"/>
<circle cx="446.7" cy="391.5" r="3.4" fill="#4FA89C" stroke="#1F5650" stroke-width="0.6"/>
<path d="M461.88 344.48H468.73L465.3 351.33Z" fill="#EAA423"/>
<path d="M465.3 344.48H468.73L465.3 351.33Z" fill="#2D3B96"/>
<path d="M461.88 344.48H468.73L465.3 351.33Z" fill="none" stroke="#EAA423" stroke-width="0.36" stroke-linejoin="round"/>
<path d="M457.68 350.88H464.53L461.1 357.73Z" fill="#A32424" stroke="#A32424" stroke-width="0.36" stroke-linejoin="round"/>
<path d="M459.88 376.77H466.73L463.3 383.62Z" fill="#2D3B96" stroke="#2D3B96" stroke-width="0.36" stroke-linejoin="round"/>
<path d="M459.88 395.18H466.73L463.3 402.03Z" fill="#2D3B96" stroke="#2D3B96" stroke-width="0.36" stroke-linejoin="round"/>
<line x1="440.1" y1="373.6" x2="453.7" y2="373.6" stroke="#000" stroke-width="2.2"/>
<line x1="456.4" y1="367.5" x2="470" y2="367.5" stroke="#000" stroke-width="2.2"/>
<circle cx="488.2" cy="363.5" r="3.4" fill="#4FA89C" stroke="#1F5650" stroke-width="0.6"/>
<circle cx="492.2" cy="369.7" r="3.4" fill="#4FA89C" stroke="#1F5650" stroke-width="0.6"/>
<circle cx="488.2" cy="375.2" r="3.4" fill="#4FA89C" stroke="#1F5650" stroke-width="0.6"/>
<circle cx="490.2" cy="385.3" r="3.4" fill="#4FA89C" stroke="#1F5650" stroke-width="0.6"/>
<circle cx="490.2" cy="394.5" r="3.4" fill="#4FA89C" stroke="#1F5650" stroke-width="0.6"/>
<path d="M505.18 350.88H512.02L508.6 357.73Z" fill="#EAA423"/>
<path d="M508.6 350.88H512.02L508.6 357.73Z" fill="#2D3B96"/>
<path d="M505.18 350.88H512.02L508.6 357.73Z" fill="none" stroke="#EAA423" stroke-width="0.36" stroke-linejoin="round"/>
<path d="M500.77 355.07H507.62L504.2 361.93Z" fill="#A32424" stroke="#A32424" stroke-width="0.36" stroke-linejoin="round"/>
<path d="M503.18 372.48H510.03L506.6 379.33Z" fill="#2D3B96" stroke="#2D3B96" stroke-width="0.36" stroke-linejoin="round"/>
<path d="M503.18 398.57H510.03L506.6 405.43Z" fill="#2D3B96" stroke="#2D3B96" stroke-width="0.36" stroke-linejoin="round"/>
<line x1="483.5" y1="375.6" x2="497.1" y2="375.6" stroke="#000" stroke-width="2.2"/>
<line x1="499.7" y1="367.4" x2="513.3" y2="367.4" stroke="#000" stroke-width="2.2"/>
<circle cx="533.4" cy="362.4" r="3.4" fill="#4FA89C" stroke="#1F5650" stroke-width="0.6"/>
<circle cx="533.4" cy="371.6" r="3.4" fill="#4FA89C" stroke="#1F5650" stroke-width="0.6"/>
<circle cx="533.4" cy="378.6" r="3.4" fill="#4FA89C" stroke="#1F5650" stroke-width="0.6"/>
<circle cx="531.4" cy="382.8" r="3.4" fill="#4FA89C" stroke="#1F5650" stroke-width="0.6"/>
<circle cx="535.9" cy="382.4" r="3.4" fill="#4FA89C" stroke="#1F5650" stroke-width="0.6"/>
<path d="M546.48 328.98H553.32L549.9 335.83Z" fill="#A32424" stroke="#A32424" stroke-width="0.36" stroke-linejoin="round"/>
<path d="M546.48 339.98H553.32L549.9 346.83Z" fill="#EAA423"/>
<path d="M549.9 339.98H553.32L549.9 346.83Z" fill="#2D3B96"/>
<path d="M546.48 339.98H553.32L549.9 346.83Z" fill="none" stroke="#EAA423" stroke-width="0.36" stroke-linejoin="round"/>
<path d="M546.48 369.98H553.32L549.9 376.83Z" fill="#2D3B96" stroke="#2D3B96" stroke-width="0.36" stroke-linejoin="round"/>
<path d="M546.48 380.18H553.32L549.9 387.03Z" fill="#2D3B96" stroke="#2D3B96" stroke-width="0.36" stroke-linejoin="round"/>
<line x1="526.9" y1="379.1" x2="540.5" y2="379.1" stroke="#000" stroke-width="2.2"/>
<line x1="543.2" y1="358.5" x2="556.8" y2="358.5" stroke="#000" stroke-width="2.2"/>
<circle cx="576.9" cy="367.4" r="3.4" fill="#4FA89C" stroke="#1F5650" stroke-width="0.6"/>
<circle cx="576" cy="379.4" r="3.4" fill="#4FA89C" stroke="#1F5650" stroke-width="0.6"/>
<circle cx="578.5" cy="381.1" r="3.4" fill="#4FA89C" stroke="#1F5650" stroke-width="0.6"/>
<circle cx="574.4" cy="383.6" r="3.4" fill="#4FA89C" stroke="#1F5650" stroke-width="0.6"/>
<circle cx="577.2" cy="383.6" r="3.4" fill="#4FA89C" stroke="#1F5650" stroke-width="0.6"/>
<path d="M589.88 328.27H596.72L593.3 335.12Z" fill="#A32424" stroke="#A32424" stroke-width="0.36" stroke-linejoin="round"/>
<path d="M589.88 347.38H596.72L593.3 354.23Z" fill="#EAA423"/>
<path d="M593.3 347.38H596.72L593.3 354.23Z" fill="#2D3B96"/>
<path d="M589.88 347.38H596.72L593.3 354.23Z" fill="none" stroke="#EAA423" stroke-width="0.36" stroke-linejoin="round"/>
<path d="M589.88 366.77H596.72L593.3 373.62Z" fill="#2D3B96" stroke="#2D3B96" stroke-width="0.36" stroke-linejoin="round"/>
<path d="M589.88 378.77H596.72L593.3 385.62Z" fill="#2D3B96" stroke="#2D3B96" stroke-width="0.36" stroke-linejoin="round"/>
<line x1="570.2" y1="381.6" x2="583.8" y2="381.6" stroke="#000" stroke-width="2.2"/>
<line x1="586.5" y1="360.5" x2="600.1" y2="360.5" stroke="#000" stroke-width="2.2"/>
<text transform="matrix(1 .0005 0 1 105.5 538.7)" font-size="14" font-weight="bold" text-anchor="middle">CD4+</text>
<text transform="matrix(1 .0005 0 1 105.5 555.9)" font-size="14.1" text-anchor="middle">48h</text>
<text transform="matrix(1 .0005 0 1 253.4 538.7)" font-size="14" font-weight="bold" text-anchor="middle">CD8+</text>
<text transform="matrix(1 .0005 0 1 253.4 555.9)" font-size="14.1" text-anchor="middle">48h</text>
<text transform="matrix(1 .0005 0 1 398.9 538.7)" font-size="14" font-weight="bold" text-anchor="middle">CD19+</text>
<text transform="matrix(1 .0005 0 1 398.9 555.9)" font-size="14.1" text-anchor="middle">48h</text>
<line x1="51.45" y1="569" x2="51.45" y2="682.1" stroke="#000" stroke-width="1.2"/>
<line x1="50.85" y1="681.5" x2="164" y2="681.5" stroke="#000" stroke-width="1.2"/>
<line x1="46.75" y1="681.5" x2="51.45" y2="681.5" stroke="#000" stroke-width="1.2"/>
<text transform="matrix(1 .0005 0 1 45.45 685.2)" font-size="11.3" text-anchor="end">0</text>
<line x1="46.75" y1="653.52" x2="51.45" y2="653.52" stroke="#000" stroke-width="1.2"/>
<text transform="matrix(1 .0005 0 1 45.45 657.23)" font-size="11.3" text-anchor="end">5</text>
<line x1="46.75" y1="625.55" x2="51.45" y2="625.55" stroke="#000" stroke-width="1.2"/>
<text transform="matrix(1 .0005 0 1 45.45 629.25)" font-size="11.3" text-anchor="end">10</text>
<line x1="46.75" y1="597.58" x2="51.45" y2="597.58" stroke="#000" stroke-width="1.2"/>
<text transform="matrix(1 .0005 0 1 45.45 601.28)" font-size="11.3" text-anchor="end">15</text>
<line x1="46.75" y1="569.6" x2="51.45" y2="569.6" stroke="#000" stroke-width="1.2"/>
<text transform="matrix(1 .0005 0 1 45.45 573.3)" font-size="11.3" text-anchor="end">20</text>
<line x1="196.45" y1="569" x2="196.45" y2="682.1" stroke="#000" stroke-width="1.2"/>
<line x1="195.85" y1="681.5" x2="309" y2="681.5" stroke="#000" stroke-width="1.2"/>
<line x1="191.9" y1="681.5" x2="196.45" y2="681.5" stroke="#000" stroke-width="1.2"/>
<text transform="matrix(1 .0005 0 1 190.8 685.1)" font-size="11.3" text-anchor="end">0</text>
<line x1="191.9" y1="653.52" x2="196.45" y2="653.52" stroke="#000" stroke-width="1.2"/>
<text transform="matrix(1 .0005 0 1 190.8 657.12)" font-size="11.3" text-anchor="end">2</text>
<line x1="191.9" y1="625.55" x2="196.45" y2="625.55" stroke="#000" stroke-width="1.2"/>
<text transform="matrix(1 .0005 0 1 190.8 629.15)" font-size="11.3" text-anchor="end">4</text>
<line x1="191.9" y1="597.58" x2="196.45" y2="597.58" stroke="#000" stroke-width="1.2"/>
<text transform="matrix(1 .0005 0 1 190.8 601.18)" font-size="11.3" text-anchor="end">6</text>
<line x1="191.9" y1="569.6" x2="196.45" y2="569.6" stroke="#000" stroke-width="1.2"/>
<text transform="matrix(1 .0005 0 1 190.8 573.2)" font-size="11.3" text-anchor="end">8</text>
<line x1="341.4" y1="569" x2="341.4" y2="682.1" stroke="#000" stroke-width="1.2"/>
<line x1="340.8" y1="681.5" x2="454" y2="681.5" stroke="#000" stroke-width="1.2"/>
<line x1="336.95" y1="681.5" x2="341.4" y2="681.5" stroke="#000" stroke-width="1.2"/>
<text transform="matrix(1 .0005 0 1 335.7 685.1)" font-size="11.3" text-anchor="end">0</text>
<line x1="336.95" y1="653.52" x2="341.4" y2="653.52" stroke="#000" stroke-width="1.2"/>
<text transform="matrix(1 .0005 0 1 335.7 657.12)" font-size="11.3" text-anchor="end">10</text>
<line x1="336.95" y1="625.55" x2="341.4" y2="625.55" stroke="#000" stroke-width="1.2"/>
<text transform="matrix(1 .0005 0 1 335.7 629.15)" font-size="11.3" text-anchor="end">20</text>
<line x1="336.95" y1="597.58" x2="341.4" y2="597.58" stroke="#000" stroke-width="1.2"/>
<text transform="matrix(1 .0005 0 1 335.7 601.18)" font-size="11.3" text-anchor="end">30</text>
<line x1="336.95" y1="569.6" x2="341.4" y2="569.6" stroke="#000" stroke-width="1.2"/>
<text transform="matrix(1 .0005 0 1 335.7 573.2)" font-size="11.3" text-anchor="end">40</text>
<text transform="translate(25.8 627) rotate(-90)" font-size="11.1" text-anchor="middle">Cell death [%]</text>
<text transform="matrix(1 .0005 0 1 9.6 702.7)" font-size="11.1">DFO</text>
<text transform="matrix(1 .0005 0 1 10.2 716.8)" font-size="11.1" letter-spacing="-0.3">Fer-1</text>
<text transform="matrix(1 .0005 0 1 107.5 702.25)" font-size="10.6" text-anchor="middle" stroke="#000" stroke-width="0.25">+</text>
<text transform="matrix(1 .0005 0 1 146.4 716.8)" font-size="10.6" text-anchor="middle" stroke="#000" stroke-width="0.25">+</text>
<text transform="matrix(1 .0005 0 1 253.4 702.25)" font-size="10.6" text-anchor="middle" stroke="#000" stroke-width="0.25">+</text>
<text transform="matrix(1 .0005 0 1 292.1 716.8)" font-size="10.6" text-anchor="middle" stroke="#000" stroke-width="0.25">+</text>
<text transform="matrix(1 .0005 0 1 397.9 702.25)" font-size="10.6" text-anchor="middle" stroke="#000" stroke-width="0.25">+</text>
<text transform="matrix(1 .0005 0 1 436.6 716.8)" font-size="10.6" text-anchor="middle" stroke="#000" stroke-width="0.25">+</text>
<circle cx="485.4" cy="578" r="3.5" fill="#4FA89C" stroke="#1F5650" stroke-width="0.6"/>
<path d="M480.9 590.2H490.1L485.5 598.4Z" fill="#000000" stroke="#000000" stroke-width="0.36" stroke-linejoin="round"/>
<text transform="matrix(1 .0005 0 1 498.4 581.7)" font-size="10.7">HC</text>
<text transform="matrix(1 .0005 0 1 498.4 598)" font-size="10.7">DADA2</text>
<circle cx="62.7" cy="661.7" r="3.4" fill="#4FA89C" stroke="#1F5650" stroke-width="0.6"/>
<circle cx="59.6" cy="665" r="3.4" fill="#4FA89C" stroke="#1F5650" stroke-width="0.6"/>
<path d="M72.28 583.77H79.12L75.7 590.62Z" fill="#EAA423"/>
<path d="M75.7 583.77H79.12L75.7 590.62Z" fill="#2D3B96"/>
<path d="M72.28 583.77H79.12L75.7 590.62Z" fill="none" stroke="#EAA423" stroke-width="0.36" stroke-linejoin="round"/>
<path d="M72.28 651.88H79.12L75.7 658.72Z" fill="#2D3B96" stroke="#2D3B96" stroke-width="0.36" stroke-linejoin="round"/>
<line x1="56.3" y1="663.4" x2="66.1" y2="663.4" stroke="#000" stroke-width="2.2"/>
<line x1="70.9" y1="621.2" x2="80.7" y2="621.2" stroke="#000" stroke-width="2.2"/>
<circle cx="101.6" cy="656.6" r="3.4" fill="#4FA89C" stroke="#1F5650" stroke-width="0.6"/>
<circle cx="98.5" cy="662.1" r="3.4" fill="#4FA89C" stroke="#1F5650" stroke-width="0.6"/>
<path d="M111.28 585.58H118.12L114.7 592.42Z" fill="#EAA423"/>
<path d="M114.7 585.58H118.12L114.7 592.42Z" fill="#2D3B96"/>
<path d="M111.28 585.58H118.12L114.7 592.42Z" fill="none" stroke="#EAA423" stroke-width="0.36" stroke-linejoin="round"/>
<path d="M111.28 639.48H118.12L114.7 646.32Z" fill="#2D3B96" stroke="#2D3B96" stroke-width="0.36" stroke-linejoin="round"/>
<line x1="95.3" y1="659.3" x2="105.1" y2="659.3" stroke="#000" stroke-width="2.2"/>
<line x1="110" y1="616.1" x2="119.8" y2="616.1" stroke="#000" stroke-width="2.2"/>
<circle cx="140.4" cy="662.6" r="3.4" fill="#4FA89C" stroke="#1F5650" stroke-width="0.6"/>
<circle cx="137.7" cy="664.8" r="3.4" fill="#4FA89C" stroke="#1F5650" stroke-width="0.6"/>
<path d="M150.38 584.17H157.23L153.8 591.02Z" fill="#EAA423"/>
<path d="M153.8 584.17H157.23L153.8 591.02Z" fill="#2D3B96"/>
<path d="M150.38 584.17H157.23L153.8 591.02Z" fill="none" stroke="#EAA423" stroke-width="0.36" stroke-linejoin="round"/>
<path d="M150.38 635.27H157.23L153.8 642.12Z" fill="#2D3B96" stroke="#2D3B96" stroke-width="0.36" stroke-linejoin="round"/>
<line x1="134.3" y1="663.7" x2="144.1" y2="663.7" stroke="#000" stroke-width="2.2"/>
<line x1="148.9" y1="613.2" x2="158.7" y2="613.2" stroke="#000" stroke-width="2.2"/>
<circle cx="207.7" cy="663" r="3.4" fill="#4FA89C" stroke="#1F5650" stroke-width="0.6"/>
<circle cx="205" cy="663.9" r="3.4" fill="#4FA89C" stroke="#1F5650" stroke-width="0.6"/>
<path d="M217.57 590.17H224.43L221 597.02Z" fill="#EAA423"/>
<path d="M221 590.17H224.43L221 597.02Z" fill="#2D3B96"/>
<path d="M217.57 590.17H224.43L221 597.02Z" fill="none" stroke="#EAA423" stroke-width="0.36" stroke-linejoin="round"/>
<path d="M217.57 628.08H224.43L221 634.92Z" fill="#2D3B96" stroke="#2D3B96" stroke-width="0.36" stroke-linejoin="round"/>
<line x1="200.1" y1="663.5" x2="212.3" y2="663.5" stroke="#000" stroke-width="2.2"/>
<line x1="214.9" y1="612.6" x2="227.1" y2="612.6" stroke="#000" stroke-width="2.2"/>
<circle cx="246.9" cy="661.2" r="3.4" fill="#4FA89C" stroke="#1F5650" stroke-width="0.6"/>
<circle cx="243.8" cy="664.5" r="3.4" fill="#4FA89C" stroke="#1F5650" stroke-width="0.6"/>
<path d="M256.68 602.98H263.53L260.1 609.82Z" fill="#2D3B96" stroke="#2D3B96" stroke-width="0.36" stroke-linejoin="round"/>
<path d="M256.68 618.98H263.53L260.1 625.82Z" fill="#EAA423"/>
<path d="M260.1 618.98H263.53L260.1 625.82Z" fill="#2D3B96"/>
<path d="M256.68 618.98H263.53L260.1 625.82Z" fill="none" stroke="#EAA423" stroke-width="0.36" stroke-linejoin="round"/>
<line x1="239.3" y1="663" x2="251.5" y2="663" stroke="#000" stroke-width="2.2"/>
<line x1="253.9" y1="614.3" x2="266.1" y2="614.3" stroke="#000" stroke-width="2.2"/>
<circle cx="285.4" cy="664.8" r="3.4" fill="#4FA89C" stroke="#1F5650" stroke-width="0.6"/>
<circle cx="283.1" cy="666.8" r="3.4" fill="#4FA89C" stroke="#1F5650" stroke-width="0.6"/>
<path d="M295.47 595.67H302.32L298.9 602.52Z" fill="#EAA423"/>
<path d="M298.9 595.67H302.32L298.9 602.52Z" fill="#2D3B96"/>
<path d="M295.47 595.67H302.32L298.9 602.52Z" fill="none" stroke="#EAA423" stroke-width="0.36" stroke-linejoin="round"/>
<path d="M295.47 587.98H302.32L298.9 594.82Z" fill="#2D3B96" stroke="#2D3B96" stroke-width="0.36" stroke-linejoin="round"/>
<line x1="278.1" y1="666.1" x2="290.3" y2="666.1" stroke="#000" stroke-width="2.2"/>
<line x1="292.9" y1="595.3" x2="305.1" y2="595.3" stroke="#000" stroke-width="2.2"/>
<circle cx="351.4" cy="622.7" r="3.4" fill="#4FA89C" stroke="#1F5650" stroke-width="0.6"/>
<circle cx="351.4" cy="644.9" r="3.4" fill="#4FA89C" stroke="#1F5650" stroke-width="0.6"/>
<path d="M362.57 587.77H369.43L366 594.62Z" fill="#EAA423"/>
<path d="M366 587.77H369.43L366 594.62Z" fill="#2D3B96"/>
<path d="M362.57 587.77H369.43L366 594.62Z" fill="none" stroke="#EAA423" stroke-width="0.36" stroke-linejoin="round"/>
<path d="M362.57 651.27H369.43L366 658.12Z" fill="#2D3B96" stroke="#2D3B96" stroke-width="0.36" stroke-linejoin="round"/>
<line x1="346.35" y1="633.8" x2="356.25" y2="633.8" stroke="#000" stroke-width="2.2"/>
<line x1="361.05" y1="623.2" x2="370.95" y2="623.2" stroke="#000" stroke-width="2.2"/>
<circle cx="390.3" cy="642.2" r="3.4" fill="#4FA89C" stroke="#1F5650" stroke-width="0.6"/>
<circle cx="390.3" cy="658.1" r="3.4" fill="#4FA89C" stroke="#1F5650" stroke-width="0.6"/>
<path d="M401.47 616.48H408.32L404.9 623.32Z" fill="#EAA423"/>
<path d="M404.9 616.48H408.32L404.9 623.32Z" fill="#2D3B96"/>
<path d="M401.47 616.48H408.32L404.9 623.32Z" fill="none" stroke="#EAA423" stroke-width="0.36" stroke-linejoin="round"/>
<path d="M401.47 650.38H408.32L404.9 657.22Z" fill="#2D3B96" stroke="#2D3B96" stroke-width="0.36" stroke-linejoin="round"/>
<line x1="385.35" y1="650" x2="395.25" y2="650" stroke="#000" stroke-width="2.2"/>
<line x1="400.05" y1="636.9" x2="409.95" y2="636.9" stroke="#000" stroke-width="2.2"/>
<circle cx="429.3" cy="628.5" r="3.4" fill="#4FA89C" stroke="#1F5650" stroke-width="0.6"/>
<circle cx="429.3" cy="648.6" r="3.4" fill="#4FA89C" stroke="#1F5650" stroke-width="0.6"/>
<path d="M440.47 598.88H447.32L443.9 605.72Z" fill="#EAA423"/>
<path d="M443.9 598.88H447.32L443.9 605.72Z" fill="#2D3B96"/>
<path d="M440.47 598.88H447.32L443.9 605.72Z" fill="none" stroke="#EAA423" stroke-width="0.36" stroke-linejoin="round"/>
<path d="M440.47 628.88H447.32L443.9 635.72Z" fill="#2D3B96" stroke="#2D3B96" stroke-width="0.36" stroke-linejoin="round"/>
<line x1="424.35" y1="638.5" x2="434.25" y2="638.5" stroke="#000" stroke-width="2.2"/>
<line x1="439.05" y1="617.4" x2="448.95" y2="617.4" stroke="#000" stroke-width="2.2"/>
</svg>
</body>
</html>
